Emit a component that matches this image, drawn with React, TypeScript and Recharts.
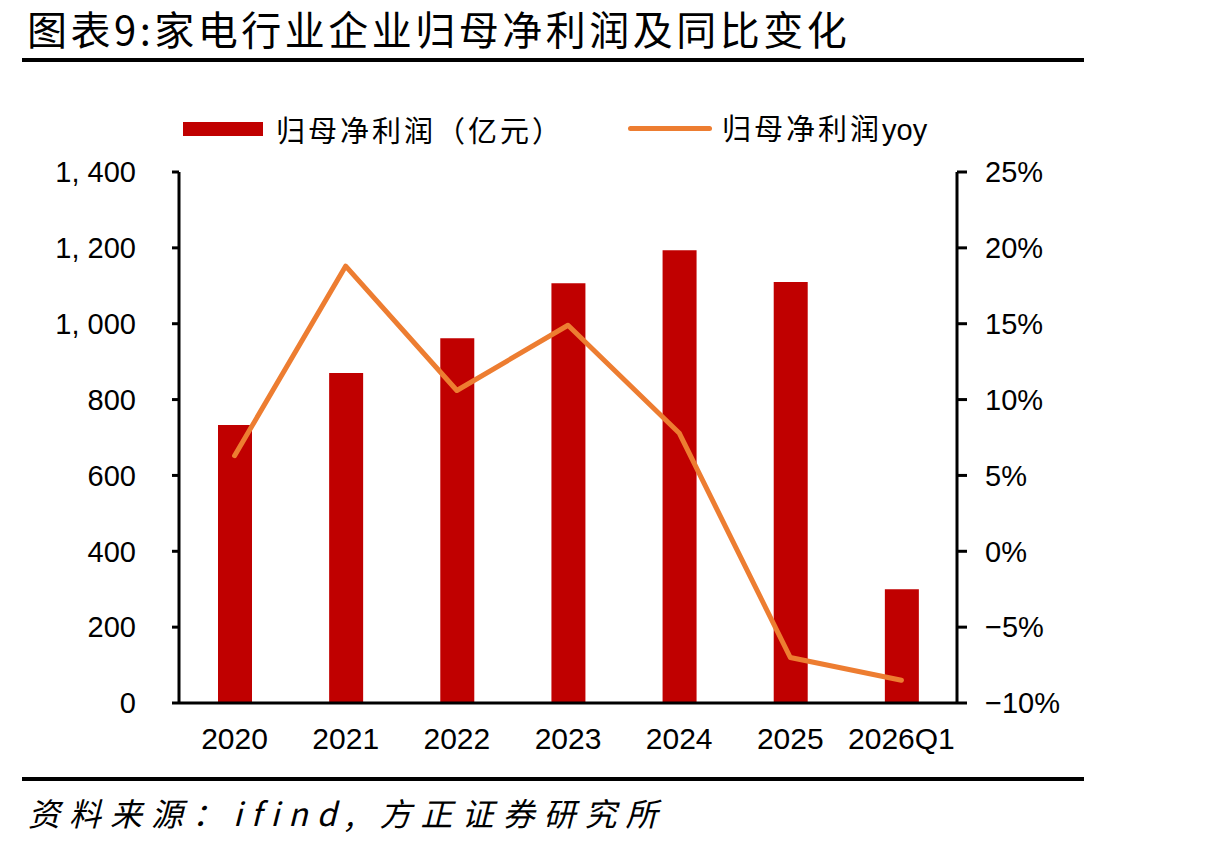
import { ComposedChart, Bar, Line, XAxis, YAxis, Legend } from "recharts";

const categories = ["2020", "2021", "2022", "2023", "2024", "2025", "2026Q1"];
// 归母净利润（亿元）
const profit = [733, 870, 962, 1107, 1194, 1110, 300];
// 归母净利润yoy (%)
const yoy = [6.3, 18.8, 10.6, 14.9, 7.8, -7.0, -8.5];

const leftTicks = [0, 200, 400, 600, 800, 1000, 1200, 1400];
const rightTicks = [-10, -5, 0, 5, 10, 15, 20, 25];
const boundaryTicks = [0, 1, 2, 3, 4, 5, 6, 7];

const BAR_COLOR = "#C00000";
const LINE_COLOR = "#ED7D31";
const NUM_FONT = "'Liberation Sans', Arial, sans-serif";
const CJK_FONT = "'Noto Sans CJK SC', sans-serif";

const data = categories.map((name, i) => ({
  name,
  idx: i + 0.5,
  profit: profit[i],
  yoy: yoy[i],
}));

const fmtLeft = (v: number) => {
  if (v < 1000) return String(v);
  const s = String(v);
  return s.slice(0, s.length - 3) + ", " + s.slice(-3);
};

const fmtRight = (v: number) => (v < 0 ? "\u2212" + Math.abs(v) + "%" : v + "%");

function LegendContent() {
  return (
    <div
      style={{
        display: "flex",
        alignItems: "center",
        fontFamily: CJK_FONT,
        fontSize: 29,
        letterSpacing: 3,
        lineHeight: "40px",
        color: "#000",
        whiteSpace: "nowrap",
      }}
    >
      <div style={{ width: 80, height: 14, background: BAR_COLOR }} />
      <span style={{ marginLeft: 13, width: 335, display: "inline-block" }}>归母净利润（亿元）</span>
      <div style={{ width: 84, height: 5, background: LINE_COLOR, marginLeft: 17, borderRadius: 3 }} />
      <span style={{ marginLeft: 10 }}>
        归母净利润<span style={{ fontFamily: NUM_FONT, letterSpacing: 0 }}>yoy</span>
      </span>
    </div>
  );
}

export default function App() {
  return (
    <div style={{ position: "absolute", left: 0, top: 0, width: 1221, height: 850, background: "#fff" }}>
      <div
        style={{
          position: "absolute",
          left: 27,
          top: 4,
          fontFamily: CJK_FONT,
          fontSize: 40,
          letterSpacing: 3.5,
          lineHeight: "48px",
          color: "#000",
          whiteSpace: "nowrap",
        }}
      >
        图表9:家电行业企业归母净利润及同比变化
      </div>
      <div style={{ position: "absolute", left: 22, top: 58, width: 1062, height: 4, background: "#000" }} />

      <ComposedChart
        width={1221}
        height={850}
        data={data}
        margin={{ top: 172, right: 164, bottom: 107, left: 79 }}
      >
        <XAxis
          xAxisId="grid"
          type="number"
          dataKey="idx"
          domain={[0, 7]}
          ticks={boundaryTicks}
          allowDataOverflow
          tick={false}
          axisLine={false}
          tickLine={{ stroke: "#000", strokeWidth: 3 }}
          tickSize={10}
          height={0}
        />
        <XAxis
          xAxisId="cat"
          dataKey="name"
          axisLine={{ stroke: "#000", strokeWidth: 3 }}
          tickLine={false}
          tickSize={0}
          tickMargin={25}
          height={40}
          interval={0}
          tick={{ fill: "#000", fontSize: 30, fontFamily: NUM_FONT }}
        />
        <YAxis
          yAxisId="left"
          domain={[0, 1400]}
          ticks={leftTicks}
          tickFormatter={fmtLeft}
          width={100}
          axisLine={{ stroke: "#000", strokeWidth: 3 }}
          tickLine={{ stroke: "#000", strokeWidth: 3 }}
          tickSize={7}
          tickMargin={36}
          interval={0}
          tick={{ fill: "#000", fontSize: 29, fontFamily: NUM_FONT }}
        />
        <YAxis
          yAxisId="right"
          orientation="right"
          domain={[-10, 25]}
          ticks={rightTicks}
          tickFormatter={fmtRight}
          width={100}
          axisLine={{ stroke: "#000", strokeWidth: 3 }}
          tickLine={{ stroke: "#000", strokeWidth: 3 }}
          tickSize={10}
          tickMargin={18}
          interval={0}
          tick={{ fill: "#000", fontSize: 29, fontFamily: NUM_FONT }}
        />
        <Legend
          verticalAlign="middle"
          layout="horizontal"
          content={<LegendContent />}
          wrapperStyle={{ position: "absolute", top: 107, left: 183, width: "auto" }}
        />
        <Bar
          xAxisId="cat"
          yAxisId="left"
          dataKey="profit"
          name="归母净利润（亿元）"
          fill={BAR_COLOR}
          barSize={34}
          isAnimationActive={false}
        />
        <Line
          xAxisId="cat"
          yAxisId="right"
          dataKey="yoy"
          name="归母净利润yoy"
          stroke={LINE_COLOR}
          strokeWidth={5}
          strokeLinecap="round"
          strokeLinejoin="round"
          dot={false}
          isAnimationActive={false}
        />
      </ComposedChart>

      <div style={{ position: "absolute", left: 22, top: 777, width: 1062, height: 4, background: "#000" }} />
      <div
        style={{
          position: "absolute",
          left: 28,
          top: 790,
          fontFamily: CJK_FONT,
          fontStyle: "italic",
          fontSize: 32,
          letterSpacing: 9,
          lineHeight: "44px",
          color: "#000",
          whiteSpace: "nowrap",
        }}
      >
        资料来源：ifind, 方正证券研究所
      </div>
    </div>
  );
}
